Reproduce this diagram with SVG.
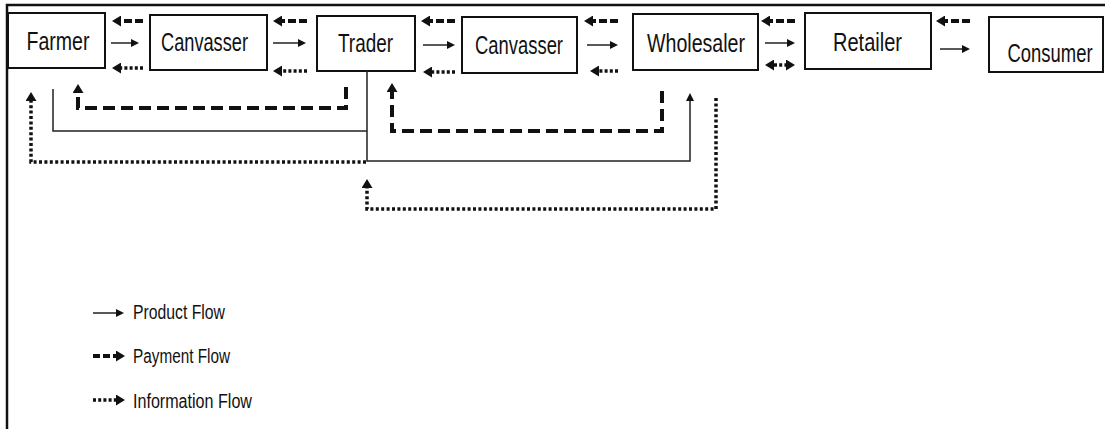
<svg xmlns="http://www.w3.org/2000/svg" width="1105" height="429" viewBox="0 0 1105 429">
<style>
.box{fill:#fff;stroke:#111;stroke-width:2}
.lbl{font-family:"Liberation Sans",Arial,sans-serif;font-size:26px;fill:#111;text-anchor:middle}
.leg{font-family:"Liberation Sans",Arial,sans-serif;font-size:20px;fill:#111}
.sol{fill:none;stroke:#222;stroke-width:1.5}
.dash{fill:none;stroke:#111;stroke-width:4;stroke-dasharray:12 6}
.dot{fill:none;stroke:#111;stroke-width:3.5;stroke-dasharray:3 2.4}
.sdash{fill:none;stroke:#111;stroke-width:4;stroke-dasharray:8 3}
.sdot{fill:none;stroke:#111;stroke-width:3.5;stroke-dasharray:3 2.2}
.frame{fill:none;stroke:#111;stroke-width:2.5}
</style>
<defs>
<marker id="big" markerUnits="userSpaceOnUse" markerWidth="9" markerHeight="11" refX="0" refY="5.5" orient="auto-start-reverse"><path d="M0,0 L9,5.5 L0,11 z" fill="#111"/></marker>
<marker id="small" markerUnits="userSpaceOnUse" markerWidth="8" markerHeight="8" refX="0" refY="4" orient="auto"><path d="M0,0 L8,4 L0,8 z" fill="#111"/></marker>
</defs>
<rect width="1105" height="429" fill="#fff"/>
<path class="frame" d="M7,429 V5 H1105"/>
<g id="farmer"><rect class="box" x="8" y="13" width="97" height="55"/><text class="lbl" x="58" y="50" textLength="63" lengthAdjust="spacingAndGlyphs">Farmer</text></g>
<g id="canvasser1"><rect class="box" x="150" y="15" width="117" height="55"/><text class="lbl" x="204.5" y="51" textLength="87" lengthAdjust="spacingAndGlyphs">Canvasser</text></g>
<g id="trader"><rect class="box" x="317" y="16" width="98" height="55"/><text class="lbl" x="365.5" y="52" textLength="55" lengthAdjust="spacingAndGlyphs">Trader</text></g>
<g id="canvasser2"><rect class="box" x="462" y="17" width="115" height="56"/><text class="lbl" x="519" y="54" textLength="88" lengthAdjust="spacingAndGlyphs">Canvasser</text></g>
<g id="wholesaler"><rect class="box" x="633" y="14" width="125" height="56"/><text class="lbl" x="696" y="52" textLength="98" lengthAdjust="spacingAndGlyphs">Wholesaler</text></g>
<g id="retailer"><rect class="box" x="805" y="13" width="126" height="56"/><text class="lbl" x="867.5" y="51" textLength="69" lengthAdjust="spacingAndGlyphs">Retailer</text></g>
<g id="consumer"><rect class="box" x="989" y="17" width="114" height="55"/><text class="lbl" transform="translate(1050,62) scale(0.71,1)" x="0" y="0">Consumer</text></g>
<g id="connectors">
<path class="sdash" d="M143,21 H121" marker-end="url(#big)"/>
<path class="sol" d="M111,43 H131" marker-end="url(#small)"/>
<path class="sdot" d="M143,68 H121" marker-end="url(#big)"/>
<path class="sdash" d="M307,21 H282" marker-end="url(#big)"/>
<path class="sol" d="M273,43 H298" marker-end="url(#small)"/>
<path class="sdot" d="M307,71 H282" marker-end="url(#big)"/>
<path class="sdash" d="M455,21 H430" marker-end="url(#big)"/>
<path class="sol" d="M423,45 H447" marker-end="url(#small)"/>
<path class="sdot" d="M455,72 H432" marker-end="url(#big)"/>
<path class="sdash" d="M618,21 H593" marker-end="url(#big)"/>
<path class="sol" d="M587,45 H610" marker-end="url(#small)"/>
<path class="sdot" d="M618,71 H599" marker-end="url(#big)"/>
<path class="sdash" d="M795,21 H770" marker-end="url(#big)"/>
<path class="sol" d="M765,43 H787" marker-end="url(#small)"/>
<path class="sdot" d="M774,65 H786" marker-start="url(#big)" marker-end="url(#big)"/>
<path class="sdash" d="M970,21 H945" marker-end="url(#big)"/>
<path class="sol" d="M940,49 H962" marker-end="url(#small)"/>
<path class="dash" d="M346,87 V108 H78 V93" marker-end="url(#big)"/>
<path class="dash" d="M662,91 V131 H392 V92" marker-end="url(#big)"/>
<path class="sol" d="M53,89 V131 H367"/>
<path class="sol" d="M367,71 V161 H690 V101" marker-end="url(#small)"/>
<path class="dot" d="M366,162 H31 V101" marker-end="url(#big)"/>
<path class="dot" d="M716,98 V209 H367 V188" marker-end="url(#big)"/>
</g>
<g id="legend">
<path class="sol" d="M93,313 H116" marker-end="url(#small)"/>
<text class="leg" x="133" y="319" textLength="92" lengthAdjust="spacingAndGlyphs">Product Flow</text>
<path class="sdash" d="M93,356 H116" style="stroke-dasharray:7 3" marker-end="url(#big)"/>
<text class="leg" x="133" y="363" textLength="97" lengthAdjust="spacingAndGlyphs">Payment Flow</text>
<path class="sdot" d="M93,400 H116" marker-end="url(#big)"/>
<text class="leg" x="133" y="408" textLength="119" lengthAdjust="spacingAndGlyphs">Information Flow</text>
</g>
</svg>
